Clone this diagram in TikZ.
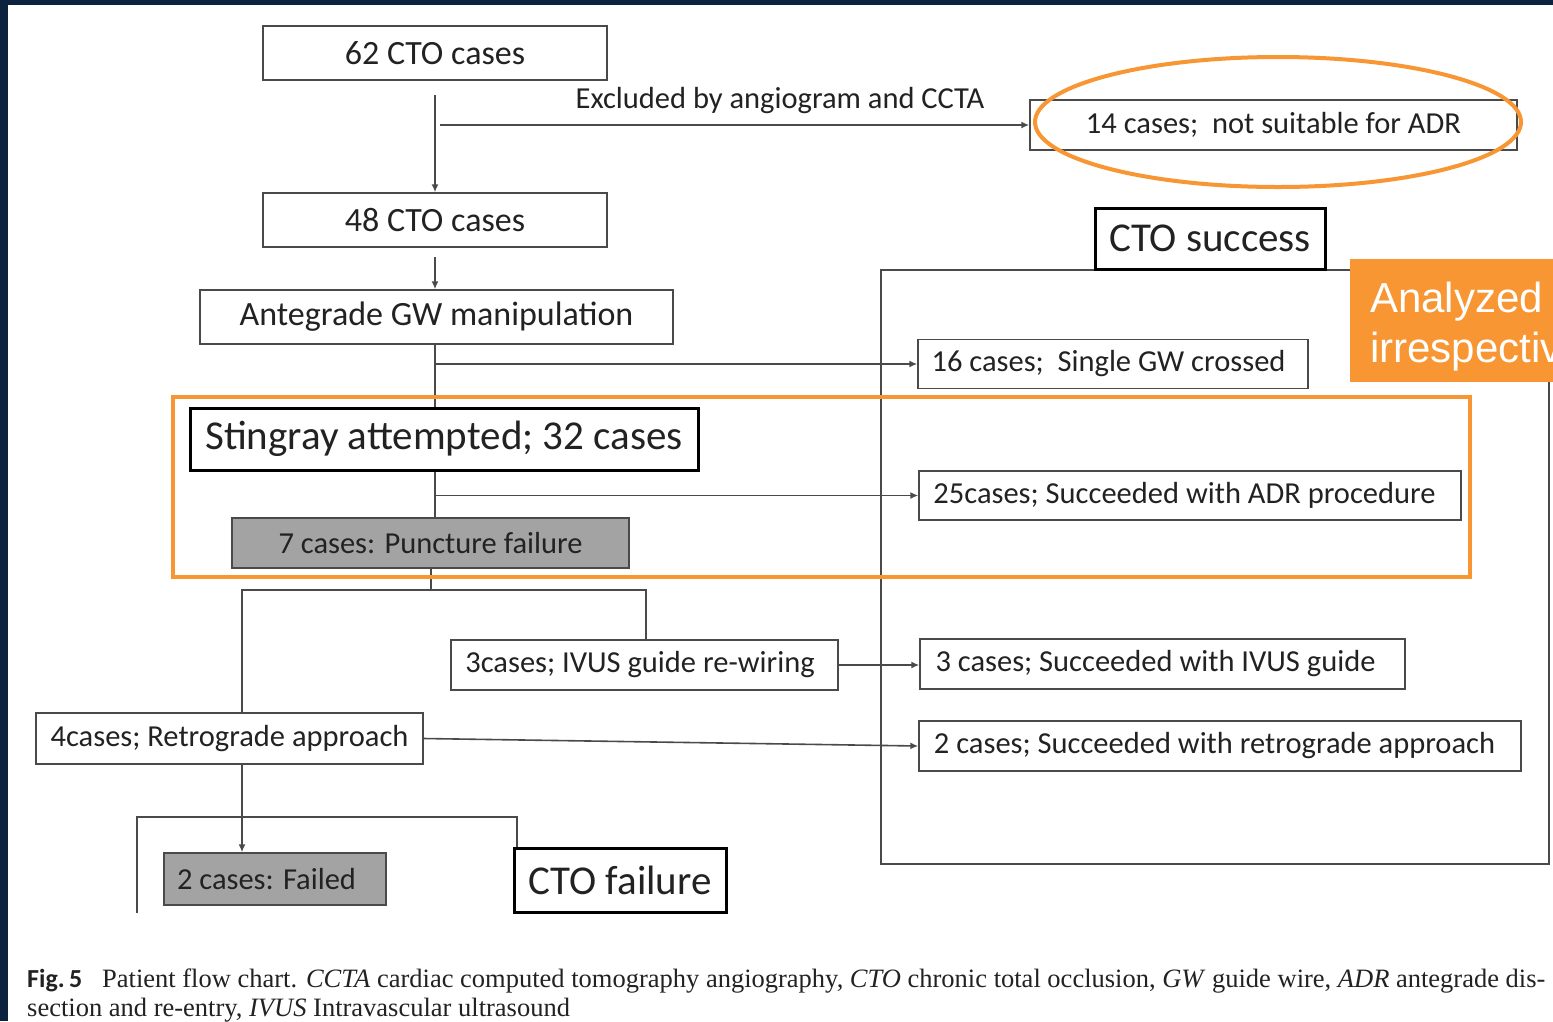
\documentclass[tikz,border=0pt]{standalone}
\usepackage{fontspec}
\setmainfont{Carlito}
\newfontfamily\capfont{Liberation Serif}
\newfontfamily\arialfont{Liberation Sans}
\usetikzlibrary{arrows.meta}
\definecolor{navy}{HTML}{0C2340}
\definecolor{lineg}{HTML}{4A4A4A}
\definecolor{textg}{HTML}{222222}
\definecolor{boxgray}{HTML}{A3A3A3}
\definecolor{orng}{HTML}{F79633}
\newcommand\boxfnt{\fontsize{30.5}{36}\selectfont}
\newcommand\topfnt{\fontsize{34}{40}\selectfont}
\newcommand\bigfnt{\fontsize{41}{48}\selectfont}
\newcommand\capfnt{\capfont\fontsize{26.5}{31}\selectfont}
\newcommand\orfnt{\arialfont\fontsize{42}{50}\selectfont}
\begin{document}
\begin{tikzpicture}[x=1pt,y=-1pt,
  box/.style={draw=lineg, line width=1.4pt, fill=white, inner sep=0pt, text=textg, font=\boxfnt},
  topbox/.style={box, font=\topfnt},
  thickbox/.style={box, draw=black, line width=3pt, font=\bigfnt},
  graybox/.style={box, fill=boxgray},
  lbl/.style={inner sep=0pt, text=textg, font=\boxfnt},
  conn/.style={draw=lineg, line width=1.6pt},
  arr/.style={conn, -{Latex[length=8pt,width=7pt]}},
  orline/.style={draw=orng, line width=4pt},
  ortext/.style={inner sep=0pt, anchor=base west, text=white, font=\orfnt},
  captext/.style={inner sep=0pt, anchor=base west, text=textg, font=\capfnt}]
\useasboundingbox (0,0) rectangle (1553,1021);
\fill[navy] (0,0) rectangle (1553,1021);
\fill[white] (8,5) rectangle (1553,1021);

% success frame
\draw[conn] (881,270) rectangle (1549,864);

% nodes
\node[topbox, minimum width=344pt, minimum height=54pt] (n62) at (435,53) {62 CTO cases};
\node[topbox, minimum width=344pt, minimum height=54pt] (n48) at (435,220) {48 CTO cases};
\node[box, minimum width=487pt, minimum height=50pt] (n14) at (1273.5,125) {14 cases;\ \ not suitable for ADR};
\node[lbl] (excl) at (780,101) {Excluded by angiogram and CCTA};
\node[topbox, minimum width=473pt, minimum height=54pt] (ante) at (436.5,317) {Antegrade GW manipulation};
\node[thickbox, minimum width=230pt, minimum height=61pt] (succ) at (1210,238.5) {CTO success};
\node[box, minimum width=390pt, minimum height=49pt] (n16) at (1113,364) {16 cases;\ \ Single GW crossed\hspace*{9pt}};
\node[thickbox, minimum width=508pt, minimum height=62pt] (sting) at (444,439) {Stingray attempted; 32 cases};
\node[box, minimum width=542pt, minimum height=49pt] (n25) at (1190,495.5) {25cases; Succeeded with ADR procedure\hspace*{11pt}};
\node[graybox, minimum width=397pt, minimum height=50pt] (n7) at (430.5,543) {7 cases: Puncture failure};
\node[box, minimum width=387pt, minimum height=50pt] (ivus) at (644.5,665) {3cases; IVUS guide re-wiring\hspace*{9pt}};
\node[box, minimum width=485pt, minimum height=50pt] (n3s) at (1162.5,664) {3 cases; Succeeded with IVUS guide\hspace*{14pt}};
\node[box, minimum width=387pt, minimum height=51pt] (retro) at (229.5,738.5) {4cases; Retrograde approach};
\node[box, minimum width=602pt, minimum height=50pt] (n2s) at (1220,746) {2 cases; Succeeded with retrograde approach\hspace*{11pt}};
\node[graybox, minimum width=222pt, minimum height=52pt] (fail) at (275,879) {2 cases: Failed\hspace*{17pt}};
\node[thickbox, minimum width=212pt, minimum height=64pt] (ctofail) at (620,880) {CTO failure};

% connectors
\coordinate (c62) at (435,95);
\draw[arr] (c62) -- (c62 |- n48.north);
\coordinate (cex) at (440,125);
\draw[arr] (cex) -- (n14.west);
\coordinate (c48) at (435,257);
\draw[arr] (c48) -- (c48 |- ante.north);
\draw[conn] (ante.south -| c48) -- (sting.north -| c48);
\coordinate (b16) at (436,364);
\draw[arr] (b16) -- (b16 -| n16.west);
\draw[conn] (sting.south -| c48) -- (n7.north -| c48);
\coordinate (b25) at (435,495.5);
\draw[arr] (b25) -- (b25 -| n25.west);
\coordinate (brk) at (431,590);
\coordinate (brkL) at (242,590);
\coordinate (brkR) at (646,590);
\draw[conn] (n7.south -| brk) -- (brk);
\draw[conn] (brkL |- retro.north) -- (brkL) -- (brkR) -- (brkR |- ivus.north);
\draw[arr] (ivus.east) -- (ivus.east -| n3s.west);
\draw[arr] (retro.east) -- (n2s.west);
\draw[arr] (retro.south -| brkL) -- (fail.north -| brkL);
\coordinate (fL) at (137,913);
\coordinate (fTL) at (137,817);
\coordinate (fTR) at (517,817);
\draw[conn] (fL) -- (fTL) -- (fTR) -- (fTR |- ctofail.north);

% orange highlights
\draw[orline] (173,397) rectangle (1470,577);
\draw[orline] (1278,122) ellipse [x radius=243, y radius=65];
\begin{scope}
\clip (0,0) rectangle (1553,1021);
\node[fill=orng, inner sep=0pt, minimum width=210pt, minimum height=123pt, anchor=north west] (anbox) at (1350,259) {};
\node[ortext] (an1) at (1370,312) {Analyzed};
\node[ortext] (an2) at (1370,362) {irrespective};
\node[captext] (cap1) at (27,987) {{\rmfamily\bfseries\fontsize{26}{30}\selectfont Fig.\,5}\ \ \ Patient flow chart. \textit{CCTA} cardiac computed tomography angiography, \textit{CTO} chronic total occlusion, \textit{GW} guide wire, \textit{ADR} antegrade dis-};
\node[captext] (cap2) at (27,1016) {section and re-entry, \textit{IVUS} Intravascular ultrasound};
\end{scope}
\end{tikzpicture}
\end{document}
